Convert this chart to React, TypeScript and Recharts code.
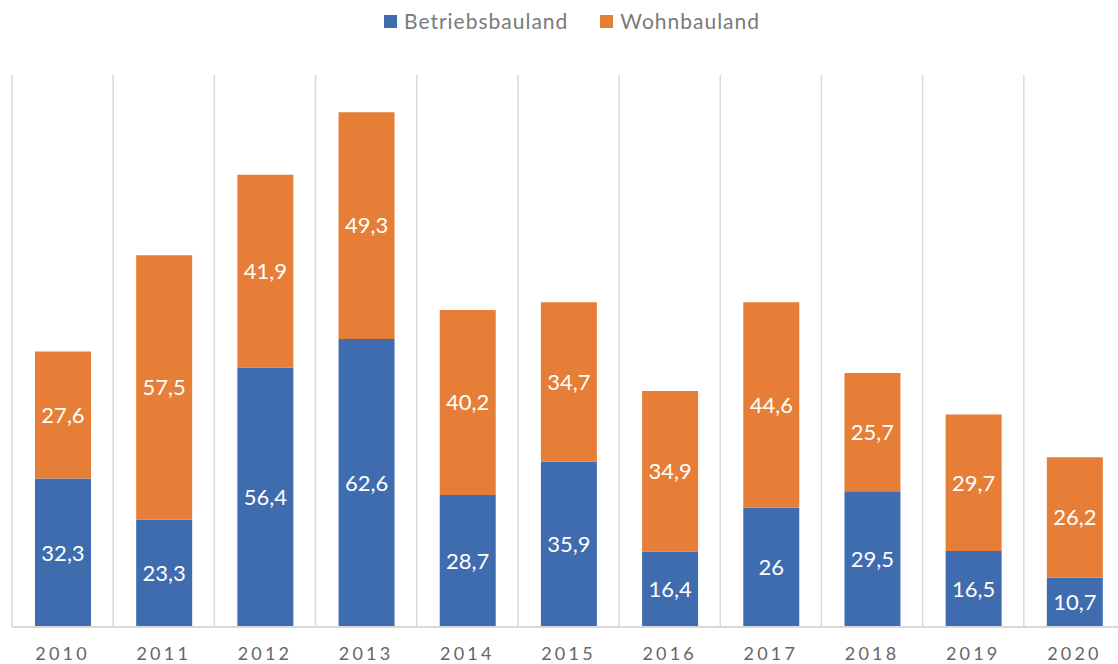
import { BarChart, Bar, XAxis, YAxis, CartesianGrid, Legend, LabelList } from "recharts";

const years = ["2010", "2011", "2012", "2013", "2014", "2015", "2016", "2017", "2018", "2019", "2020"];
const betriebsbauland = [32.3, 23.3, 56.4, 62.6, 28.7, 35.9, 16.4, 26, 29.5, 16.5, 10.7];
const wohnbauland = [27.6, 57.5, 41.9, 49.3, 40.2, 34.7, 34.9, 44.6, 25.7, 29.7, 26.2];

const data = years.map((year, i) => ({
  year,
  betrieb: betriebsbauland[i],
  wohn: wohnbauland[i],
}));

const BLUE = "#3F6CAE";
const ORANGE = "#E67E37";
const FONT = "Lato, 'Open Sans', sans-serif";

function fmt(v: any) {
  return String(v).replace(".", ",");
}

// vertical separators sit on the category boundaries, not the centres
function boundaryLines({ offset }: any) {
  const step = offset.width / years.length;
  return [...years.map((_, i) => offset.left + i * step), offset.left + offset.width];
}

function LegendContent() {
  const items = [
    { name: "Betriebsbauland", color: BLUE },
    { name: "Wohnbauland", color: ORANGE },
  ];
  return (
    <div style={{ display: "flex", justifyContent: "center", gap: 32, paddingLeft: 26, fontFamily: FONT, fontSize: 21, letterSpacing: 1, color: "#7a7a7a", lineHeight: "26px" }}>
      {items.map((it) => (
        <div key={it.name} style={{ display: "flex", alignItems: "center" }}>
          <span style={{ width: 13, height: 13, background: it.color, marginRight: 7, display: "inline-block" }} />
          {it.name}
        </div>
      ))}
    </div>
  );
}

export default function App() {
  return (
    <div style={{ position: "absolute", left: 0, top: 0, width: 1118, height: 664, overflow: "hidden", background: "#fff" }}>
      <BarChart
        width={1126}
        height={664}
        data={data}
        margin={{ top: 49, right: 1, bottom: 0, left: 12 }}
      >
        <CartesianGrid horizontal={false} verticalCoordinatesGenerator={boundaryLines} stroke="#d9d9d9" strokeWidth={1.5} />
        <XAxis
          dataKey="year"
          height={37}
          axisLine={{ stroke: "#d9d9d9", strokeWidth: 2 }}
          tickLine={false}
          tick={{ fill: "#666", fontSize: 18, fontFamily: FONT, letterSpacing: 3.2 }}
          tickMargin={14}
          interval={0}
        />
        <YAxis domain={[0, 120]} hide />
        <Legend
          verticalAlign="top"
          content={<LegendContent />}
          wrapperStyle={{ top: 8, left: 0, width: 1118 }}
        />
        <Bar dataKey="betrieb" name="Betriebsbauland" stackId="a" fill={BLUE} barSize={56} isAnimationActive={false}>
          <LabelList dataKey="betrieb" position="center" formatter={fmt} fill="#fff" fontSize={22} fontFamily={FONT} />
        </Bar>
        <Bar dataKey="wohn" name="Wohnbauland" stackId="a" fill={ORANGE} barSize={56} isAnimationActive={false}>
          <LabelList dataKey="wohn" position="center" formatter={fmt} fill="#fff" fontSize={22} fontFamily={FONT} />
        </Bar>
      </BarChart>
    </div>
  );
}
